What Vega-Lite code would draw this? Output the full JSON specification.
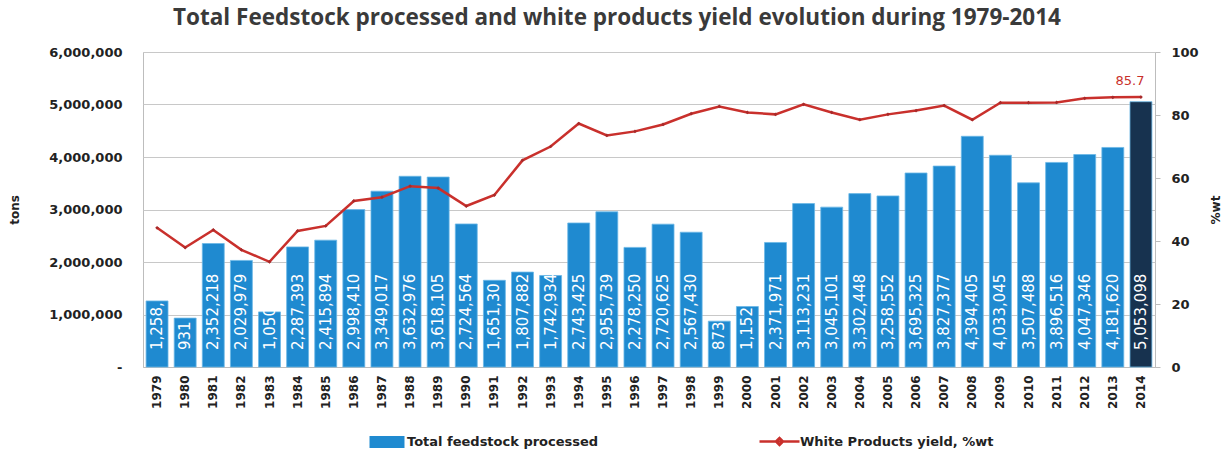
{
  "$schema": "https://vega.github.io/schema/vega-lite/v6.json",
  "width": 1012,
  "height": 315,
  "autosize": {"type": "none"},
  "padding": {"left": 143, "top": 52, "right": 76, "bottom": 83},
  "background": "white",
  "title": {
    "text": "Total Feedstock processed  and white products yield evolution during 1979-2014",
    "font": "Open Sans", "fontSize": 22.5, "fontWeight": "bold", "color": "#3a3a3a",
    "anchor": "middle", "offset": 17, "dx": -32
  },
  "config": {
    "view": {"stroke": "#bdbdbd", "strokeWidth": 1},
    "font": "DejaVu Sans"
  },
  "data": {
    "values": [
      {"year": 1979, "tons": 1258000, "label": "1,258,", "yield": 44.2},
      {"year": 1980, "tons": 931000, "label": "931", "yield": 37.9},
      {"year": 1981, "tons": 2352218, "label": "2,352,218", "yield": 43.5},
      {"year": 1982, "tons": 2029979, "label": "2,029,979", "yield": 37.2},
      {"year": 1983, "tons": 1050000, "label": "1,050", "yield": 33.4},
      {"year": 1984, "tons": 2287393, "label": "2,287,393", "yield": 43.2},
      {"year": 1985, "tons": 2415894, "label": "2,415,894", "yield": 44.8},
      {"year": 1986, "tons": 2998410, "label": "2,998,410", "yield": 52.7},
      {"year": 1987, "tons": 3349017, "label": "3,349,017", "yield": 53.9},
      {"year": 1988, "tons": 3632976, "label": "3,632,976", "yield": 57.4},
      {"year": 1989, "tons": 3618105, "label": "3,618,105", "yield": 56.8},
      {"year": 1990, "tons": 2724564, "label": "2,724,564", "yield": 51.1},
      {"year": 1991, "tons": 1651300, "label": "1,651,30", "yield": 54.6},
      {"year": 1992, "tons": 1807882, "label": "1,807,882", "yield": 65.6},
      {"year": 1993, "tons": 1742934, "label": "1,742,934", "yield": 70.0},
      {"year": 1994, "tons": 2743425, "label": "2,743,425", "yield": 77.3},
      {"year": 1995, "tons": 2955739, "label": "2,955,739", "yield": 73.5},
      {"year": 1996, "tons": 2278250, "label": "2,278,250", "yield": 74.8},
      {"year": 1997, "tons": 2720625, "label": "2,720,625", "yield": 77.0},
      {"year": 1998, "tons": 2567430, "label": "2,567,430", "yield": 80.4},
      {"year": 1999, "tons": 873000, "label": "873", "yield": 82.7},
      {"year": 2000, "tons": 1152000, "label": "1,152", "yield": 80.8},
      {"year": 2001, "tons": 2371971, "label": "2,371,971", "yield": 80.2},
      {"year": 2002, "tons": 3113231, "label": "3,113,231", "yield": 83.4},
      {"year": 2003, "tons": 3045101, "label": "3,045,101", "yield": 80.8},
      {"year": 2004, "tons": 3302448, "label": "3,302,448", "yield": 78.5},
      {"year": 2005, "tons": 3258552, "label": "3,258,552", "yield": 80.2},
      {"year": 2006, "tons": 3695325, "label": "3,695,325", "yield": 81.4},
      {"year": 2007, "tons": 3827377, "label": "3,827,377", "yield": 83.0},
      {"year": 2008, "tons": 4394405, "label": "4,394,405", "yield": 78.5},
      {"year": 2009, "tons": 4033045, "label": "4,033,045", "yield": 83.9},
      {"year": 2010, "tons": 3507488, "label": "3,507,488", "yield": 83.9},
      {"year": 2011, "tons": 3896516, "label": "3,896,516", "yield": 84.0},
      {"year": 2012, "tons": 4047346, "label": "4,047,346", "yield": 85.3},
      {"year": 2013, "tons": 4181620, "label": "4,181,620", "yield": 85.6},
      {"year": 2014, "tons": 5053098, "label": "5,053,098", "yield": 85.7}
    ]
  },
  "layer": [
    {
      "layer": [
        {
          "mark": {"type": "bar", "stroke": "#6bb8e6", "strokeWidth": 0.8},
          "encoding": {
            "x": {
              "field": "year", "type": "ordinal",
              "scale": {"paddingInner": 0.22, "paddingOuter": 0.11},
              "axis": {
                "title": null, "labelAngle": -90, "labelFontWeight": "bold",
                "labelFontSize": 12, "labelColor": "#222", "ticks": false,
                "domainColor": "#bdbdbd", "labelPadding": 8
              }
            },
            "y": {
              "field": "tons", "type": "quantitative",
              "scale": {"domain": [0, 6000000], "nice": false},
              "axis": {
                "title": "tons", "titleFontSize": 12, "titleFontWeight": "bold",
                "titleColor": "#222", "titlePadding": 27,
                "values": [0, 1000000, 2000000, 3000000, 4000000, 5000000, 6000000],
                "labelExpr": "datum.value == 0 ? '-' : format(datum.value, ',')",
                "labelFontSize": 13, "labelFontWeight": "bold", "labelColor": "#222",
                "labelPadding": 21, "ticks": false, "domain": false,
                "gridColor": "#c8c8c8", "gridWidth": 1
              }
            },
            "fill": {
              "condition": {"test": "datum.year == 2014", "value": "#17324f"},
              "datum": "Total feedstock processed",
              "scale": {"domain": ["Total feedstock processed"], "range": ["#1f8ad0"]},
              "legend": {
                "orient": "none", "legendX": 235, "legendY": 381, "title": null,
                "symbolType": "M-2,-0.7H2V0.7H-2Z", "symbolSize": 306,
                "symbolStrokeWidth": 0, "labelOffset": 11, "labelLimit": 0,
                "labelFontSize": 13, "labelFontWeight": "bold", "labelColor": "#222"
              }
            }
          }
        },
        {
          "mark": {"type": "text", "angle": 270, "align": "left", "baseline": "middle", "dx": 17, "color": "white", "fontSize": 15},
          "encoding": {
            "x": {"field": "year", "type": "ordinal"},
            "y": {"datum": 0, "type": "quantitative", "title": "tons"},
            "text": {"field": "label"}
          }
        }
      ]
    },
    {
      "layer": [
        {
          "mark": {"type": "line", "strokeWidth": 2.5},
          "encoding": {
            "x": {"field": "year", "type": "ordinal"},
            "y": {
              "field": "yield", "type": "quantitative",
              "scale": {"domain": [0, 100], "nice": false},
              "axis": {
                "orient": "right", "values": [0, 20, 40, 60, 80, 100], "grid": false,
                "title": "%wt", "titleAngle": -90, "titleFontSize": 12, "titleFontWeight": "bold",
                "titleColor": "#222", "titlePadding": 24,
                "labelFontSize": 13, "labelFontWeight": "bold", "labelColor": "#222",
                "labelPadding": 11, "tickColor": "#bdbdbd", "tickSize": 5, "domain": false
              }
            },
            "stroke": {
              "datum": "White Products yield, %wt",
              "scale": {"domain": ["White Products yield, %wt"], "range": ["#c9302c"]},
              "legend": {
                "orient": "none", "legendX": 625, "legendY": 378, "title": null,
                "symbolType": "M-2,0H2M-0.35,0L0,-0.35L0.35,0L0,0.35Z", "symbolSize": 400,
                "symbolStrokeWidth": 2.5, "labelOffset": 9, "labelLimit": 0,
                "labelFontSize": 13, "labelFontWeight": "bold", "labelColor": "#222"
              }
            }
          }
        },
        {
          "mark": {"type": "point", "filled": true, "shape": "diamond", "size": 14, "color": "#a82a2a", "opacity": 1},
          "encoding": {
            "x": {"field": "year", "type": "ordinal"},
            "y": {"field": "yield", "type": "quantitative"}
          }
        },
        {
          "transform": [{"filter": "datum.year == 2014"}],
          "mark": {"type": "text", "color": "#c9302c", "fontSize": 13, "dx": -11, "dy": -9, "baseline": "bottom", "align": "center"},
          "encoding": {
            "x": {"field": "year", "type": "ordinal"},
            "y": {"field": "yield", "type": "quantitative"},
            "text": {"field": "yield", "type": "quantitative", "format": ".1f"}
          }
        }
      ]
    }
  ],
  "resolve": {"scale": {"y": "independent"}}
}
